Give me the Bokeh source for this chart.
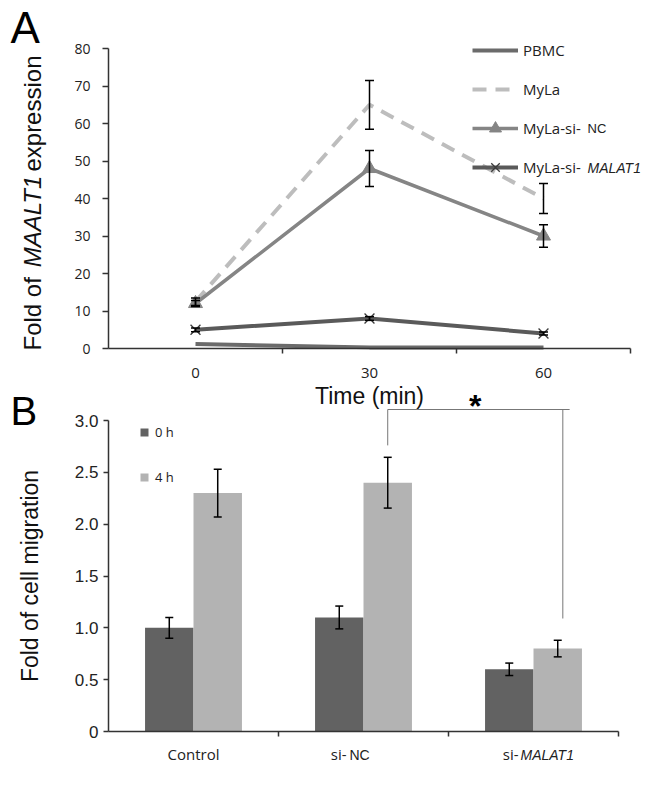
import math
from bokeh.plotting import figure
from bokeh.models import (Range1d, FixedTicker, Whisker, TeeHead, ColumnDataSource,
                          Legend, LegendItem, Label, LinearAxis, PrintfTickFormatter)
from bokeh.embed import file_html
from bokeh.resources import INLINE

# ---------------- Panel A data ----------------
times = ["0", "30", "60"]
pbmc = [1.2, 0.3, 0.3]
myla = [12.5, 65.0, 40.0]
myla_err = [1.0, 6.5, 4.0]
myla_nc = [12.0, 48.0, 30.0]
myla_nc_err = [0.8, 4.8, 3.0]
myla_malat1 = [5.0, 8.0, 4.0]
myla_malat1_err = [0.5, 0.5, 0.4]
a_yticks = [0, 10, 20, 30, 40, 50, 60, 70, 80]

# ---------------- Panel B data ----------------
groups = ["Control", "si-NC", "si-MALAT1"]
h0 = [1.0, 1.1, 0.6]
h0_err = [0.1, 0.11, 0.06]
h4 = [2.3, 2.4, 0.8]
h4_err = [0.23, 0.245, 0.08]
b_yticks = [0, 0.5, 1.0, 1.5, 2.0, 2.5, 3.0]

# ---------------- geometry (page pixels) ----------------
W, H, M = 644, 783, 0
A_PX = (108, 630)   # page x of x=0 and x=3 in panel A
A_PY = (348, 48)    # page y of y=0 and y=80
B_PX = (108, 618)
B_PY = (731, 420)   # page y of y=0 and y=3


def span(p0, p1, v0, v1, q0, q1):
    k = (v1 - v0) / (p1 - p0)
    return Range1d(v0 + (q0 - p0) * k, v0 + (q1 - p0) * k)


AX = "#333333"
TXT = "#222222"

p = figure(width=W, height=H, x_axis_type=None, y_axis_type=None,
           x_range=span(A_PX[0], A_PX[1], 0, 3, M, M + W),
           y_range=span(A_PY[0], A_PY[1], 0, 80, M + H, M),
           output_backend="svg", toolbar_location=None, min_border=0)
p.extra_x_ranges = {"bx": span(B_PX[0], B_PX[1], 0, 3, M, M + W)}
p.extra_y_ranges = {"by": span(B_PY[0], B_PY[1], 0, 3, M + H, M)}
p.outline_line_color = None


def sx(page_x):
    return page_x - M


def sy(page_y):
    return M + H - page_y


def add_whisker(xs, ys, errs, level, size=9, **rn):
    src = ColumnDataSource(dict(x=xs, upper=[y + e for y, e in zip(ys, errs)],
                                lower=[y - e for y, e in zip(ys, errs)]))
    w = Whisker(source=src, base="x", upper="upper", lower="lower",
                line_color="black", line_width=1.5, level=level,
                upper_head=TeeHead(size=size, line_color="black", line_width=1.5),
                lower_head=TeeHead(size=size, line_color="black", line_width=1.5), **rn)
    p.add_layout(w)


def style_axis(a, font, size, standoff, tick_out):
    a.axis_line_color = AX
    a.axis_line_width = 1.5
    a.major_tick_out = tick_out
    a.major_tick_in = 0
    a.major_tick_line_color = AX
    a.major_tick_line_width = 1.5
    a.minor_tick_line_color = None
    a.major_label_standoff = standoff
    a.major_label_text_font = font
    a.major_label_text_font_size = size
    a.major_label_text_color = TXT


# =============== Panel A ===============
xa = [i + 0.5 for i in range(len(times))]

r_pbmc = p.line(xa, pbmc, line_color="#6b6b6b", line_width=4)
r_myla = p.line(xa, myla, line_color="#bdbdbd", line_width=4, line_dash="14 9")
r_nc = p.line(xa, myla_nc, line_color="#858585", line_width=3.5)
r_mal = p.line(xa, myla_malat1, line_color="#5a5a5a", line_width=4)

add_whisker(xa, myla, myla_err, "glyph")
add_whisker(xa, myla_nc, myla_nc_err, "glyph")
add_whisker(xa, myla_malat1, myla_malat1_err, "glyph")

r_nc_m = p.scatter(xa, myla_nc, marker="triangle", size=14, fill_color="#858585",
                   line_color="#858585")
r_mal_m = p.scatter(xa, myla_malat1, marker="x", size=14, line_color="#3a3a3a", line_width=1.3)

ax = LinearAxis(fixed_location=0, bounds=(0, 3))
style_axis(ax, "Open Sans", "15px", 14, 0)
ax.ticker = FixedTicker(ticks=xa, minor_ticks=[1, 2, 3])
ax.major_label_overrides = {x: t for x, t in zip(xa, times)}
ax.major_tick_line_color = None
ax.minor_tick_out = 5
ax.minor_tick_in = 0
ax.minor_tick_line_color = AX
ax.minor_tick_line_width = 1.5
ax.axis_label = "Time (min)"
ax.axis_label_text_font = "Liberation Sans"
ax.axis_label_text_font_size = "23px"
ax.axis_label_text_font_style = "normal"
ax.axis_label_text_color = "#111111"
ax.axis_label_standoff = 2
p.add_layout(ax, "below")

ay = LinearAxis(fixed_location=0, bounds=(0, 80))
style_axis(ay, "Open Sans", "14px", 12, 6)
ay.ticker = FixedTicker(ticks=a_yticks)
p.add_layout(ay, "left")

legend_a = Legend(items=[
    LegendItem(label="PBMC", renderers=[r_pbmc]),
    LegendItem(label="MyLa", renderers=[r_myla]),
    LegendItem(label="MyLa-si-", renderers=[r_nc, r_nc_m]),
    LegendItem(label="MyLa-si-", renderers=[r_mal, r_mal_m]),
], location=(sx(472), sy(182)), glyph_width=46, glyph_height=30, label_height=30, spacing=9,
    padding=0, margin=0, label_standoff=5, border_line_color=None,
    background_fill_alpha=0, label_text_font="Open Sans", label_text_font_size="15px",
    label_text_color=TXT)
p.add_layout(legend_a)

scr = dict(x_units="screen", y_units="screen")
p.add_layout(Label(x=sx(587), y=sy(128), text="NC", text_font="Liberation Sans",
                   text_font_size="13px", text_color=TXT, text_baseline="middle", **scr))
p.add_layout(Label(x=sx(587), y=sy(167), text="MALAT1", text_font="Liberation Sans",
                   text_font_size="14px", text_color=TXT, text_font_style="italic",
                   text_baseline="middle", **scr))

# y-axis title of panel A with italic gene name
ylab_kw = dict(angle=math.pi / 2, text_font="Liberation Sans", text_font_size="24px",
               text_color="#111111", text_baseline="alphabetic", **scr)
p.add_layout(Label(x=sx(32), y=sy(350), text="Fold of", text_align="left", **ylab_kw))
p.add_layout(Label(x=sx(32), y=sy(221), text="MAALT1", text_align="center",
                   text_font_style="italic", **ylab_kw))
p.add_layout(Label(x=sx(32), y=sy(55), text="expression", text_align="right", **ylab_kw))

p.add_layout(Label(x=sx(10), y=sy(51), text="A", text_font="Liberation Sans",
                   text_font_size="44px", text_color="black", **scr))

# =============== Panel B ===============
rb = dict(x_range_name="bx", y_range_name="by")
xb = [i + 0.5 for i in range(len(groups))]
bw = 0.285
x0 = [x - bw / 2 for x in xb]
x4 = [x + bw / 2 for x in xb]

b0 = p.vbar(x=x0, top=h0, width=bw, fill_color="#626262", line_color=None, **rb)
b4 = p.vbar(x=x4, top=h4, width=bw, fill_color="#b3b3b3", line_color=None, **rb)
add_whisker(x0, h0, h0_err, "overlay", size=8, **rb)
add_whisker(x4, h4, h4_err, "overlay", size=8, **rb)

# significance bracket si-NC vs si-MALAT1 (4 h)
sig_y = 3.106
lx = x4[1]
rx = x4[2] + 0.03
p.segment(x0=[lx, lx, rx], y0=[sig_y, sig_y, sig_y],
          x1=[rx + 0.04, lx, rx], y1=[sig_y, h4[1] + h4_err[1] + 0.115, h4[2] + h4_err[2] + 0.21],
          line_color="#777777", line_width=1, **rb)
p.add_layout(Label(x=(lx + rx) / 2, y=sig_y, y_offset=-14, text="*", text_font="Liberation Sans",
                   text_font_size="32px", text_font_style="bold", text_align="center",
                   text_color="black", **rb))

bx = LinearAxis(fixed_location=0, bounds=(0, 3), **rb)
style_axis(bx, "Open Sans", "15px", 14, 0)
bx.ticker = FixedTicker(ticks=xb, minor_ticks=[1, 2, 3])
bx.major_label_overrides = {x: "" for x in xb}
bx.major_tick_line_color = None
bx.minor_tick_out = 5
bx.minor_tick_in = 0
bx.minor_tick_line_color = AX
bx.minor_tick_line_width = 1.5
p.add_layout(bx, "below")

by = LinearAxis(fixed_location=0, bounds=(0, 3), **rb)
style_axis(by, "Liberation Sans", "17px", 5, 5)
by.ticker = FixedTicker(ticks=b_yticks)
by.formatter = PrintfTickFormatter(format="%.1f")
by.major_label_overrides = {0: "0"}
by.axis_label = "Fold of cell migration"
by.axis_label_text_font = "Liberation Sans"
by.axis_label_text_font_size = "23px"
by.axis_label_text_font_style = "normal"
by.axis_label_text_color = "#111111"
by.axis_label_standoff = 29
p.add_layout(by, "left")

# category labels (mixed fonts)
cat_y = sy(753)
lab = dict(y_units="screen", text_baseline="middle", text_color=TXT, **rb)
p.add_layout(Label(x=xb[0], y=cat_y, text="Control", text_align="center",
                   text_font="Open Sans", text_font_size="15px", **lab))
p.add_layout(Label(x=xb[1], x_offset=-17, y=cat_y, text="si-", text_align="right",
                   text_font="Open Sans", text_font_size="15px", **lab))
p.add_layout(Label(x=xb[1], x_offset=-14, y=cat_y - 1, text="NC", text_align="left",
                   text_font="Liberation Sans", text_font_size="14px", **lab))
p.add_layout(Label(x=xb[2], x_offset=-15, y=cat_y, text="si-", text_align="right",
                   text_font="Open Sans", text_font_size="15px", **lab))
p.add_layout(Label(x=xb[2], x_offset=-13, y=cat_y - 1, text="MALAT1", text_align="left",
                   text_font="Liberation Sans", text_font_size="14px",
                   text_font_style="italic", **lab))

legend_b = Legend(items=[LegendItem(label="0 h", renderers=[b0]),
                         LegendItem(label="4 h", renderers=[b4])],
                  location=(sx(139), sy(486)), glyph_width=10, glyph_height=10, label_height=10,
                  spacing=27, padding=0, margin=0, label_standoff=6, border_line_color=None,
                  background_fill_alpha=0, label_text_font="Open Sans",
                  label_text_font_size="13px", label_text_color=TXT)
p.add_layout(legend_b)

p.add_layout(Label(x=sx(10), y=sy(432), text="B", text_font="Liberation Sans",
                   text_font_size="40px", text_color="black", **scr))

open("out.html", "w").write(file_html(p, INLINE))
